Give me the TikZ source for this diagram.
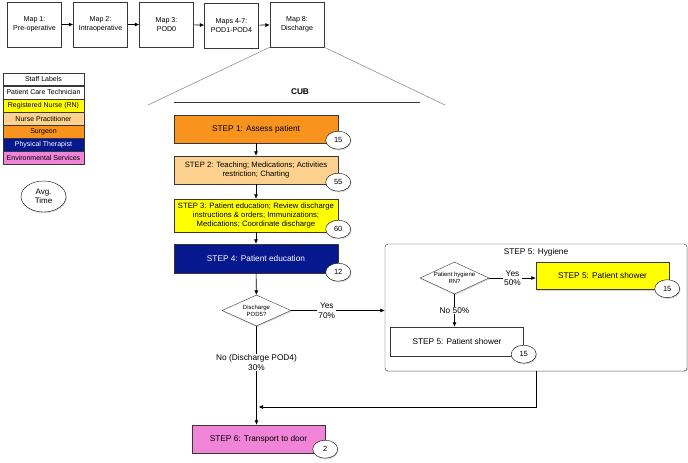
\documentclass[tikz,border=0pt]{standalone}
\usepackage{fontspec}
\setmainfont{Liberation Sans}
\usetikzlibrary{positioning,shapes.geometric,shadows,arrows.meta}

\definecolor{surgeon}{RGB}{248,148,30}
\definecolor{nursepr}{RGB}{252,210,142}
\definecolor{regnurse}{RGB}{255,255,0}
\definecolor{physther}{RGB}{6,24,142}
\definecolor{envserv}{RGB}{240,132,214}
\definecolor{edge}{RGB}{55,55,55}

\begin{document}
\begin{tikzpicture}[x=1pt, y=-1pt,
    boxshadow/.style={drop shadow={shadow xshift=0.8pt, shadow yshift=-1.2pt, opacity=0.3}},
    mapbox/.style={draw=edge, fill=white, boxshadow, minimum width=54pt, minimum height=45pt, align=center, inner sep=1pt, font=\fontsize{7.1}{8.5}\selectfont},
    legrow/.style={draw=edge, minimum width=81pt, minimum height=12.7pt, inner sep=0pt, font=\fontsize{7}{8}\selectfont},
    stepbox/.style={draw=edge, boxshadow, minimum width=164pt, align=center, inner sep=1pt, font=\fontsize{8.3}{10}\selectfont},
    smalltext/.style={font=\fontsize{7.7}{9}\selectfont},
    avg/.style={ellipse, draw=black, fill=white, boxshadow, minimum width=25pt, minimum height=18pt, inner sep=0pt, font=\fontsize{7.5}{9}\selectfont},
    choice/.style={diamond, draw=edge, fill=white, boxshadow, aspect=2.2, minimum width=69pt, minimum height=31pt, inner sep=0pt, align=center, font=\fontsize{6}{6.8}\selectfont},
    lbl/.style={fill=white, align=center, inner sep=1pt, font=\fontsize{8.3}{9.5}\selectfont},
    arr/.style={-{Latex[length=4.5pt,width=4pt]}, draw=black, line width=0.6pt}
]
    \useasboundingbox (0,0) rectangle (688,463);

    % overview of the maps
    \node[mapbox] (map1) at (34.5,24.5) {Map 1:\\Pre-operative};
    \node[mapbox] (map2) at (100.5,24.5) {Map 2:\\Intraoperative};
    \node[mapbox] (map3) at (166.5,24.5) {Map 3:\\POD0};
    \node[mapbox] (map4) at (231.5,25.5) {Maps 4-7:\\POD1-POD4};
    \node[mapbox] (map8) at (297,24.5) {Map 8:\\Discharge};
    \foreach \a/\b in {map1/map2,map2/map3,map3/map4,map4/map8}
        \draw[arr] (\a) -- (\b);

    % zoom lines to the discharge map
    \coordinate (zl) at (148,105);
    \coordinate (zr) at (445,105);
    \draw[gray, line width=0.5pt] (map8.south west) -- (zl);
    \draw[gray, line width=0.5pt] (map8.south east) -- (zr);
    \node[font=\bfseries\fontsize{8.3}{10}\selectfont] (cub) at (300,92) {CUB};
    \draw[edge, line width=1pt] (174,102) -- (420,102);

    % staff legend
    \node[legrow, fill=white] (lab) at (43.5,79.3) {Staff Labels};
    \node[legrow, fill=white, below=0pt of lab] (pct) {Patient Care Technician};
    \node[legrow, fill=regnurse, below=0pt of pct] (rn) {Registered Nurse (RN)};
    \node[legrow, fill=nursepr, below=0pt of rn] (np) {Nurse Practitioner};
    \node[legrow, fill=surgeon, below=0pt of np] (surg) {Surgeon};
    \node[legrow, fill=physther, text=white, below=0pt of surg] (pt) {Physical Therapist};
    \node[legrow, fill=envserv, below=0pt of pt] (es) {Environmental Services};

    \node[avg, minimum width=45pt, minimum height=31pt, align=center, font=\fontsize{8}{9.5}\selectfont] (avgt) at (43.5,196.5) {Avg.\\Time};

    % main steps
    \node[stepbox, fill=surgeon, minimum height=28pt] (s1) at (256,129) {STEP 1: Assess patient};
    \node[stepbox, smalltext, fill=nursepr, minimum height=28pt] (s2) at (256,170) {STEP 2: Teaching; Medications; Activities\\restriction; Charting};
    \node[stepbox, smalltext, fill=regnurse, minimum height=33pt] (s3) at (256,215.5) {STEP 3: Patient education; Review discharge\\instructions \& orders; Immunizations;\\Medications; Coordinate discharge};
    \node[stepbox, fill=physther, text=white, minimum height=29pt] (s4) at (256,258.5) {STEP 4: Patient education};
    \node[choice] (d1) at (256.5,310.5) {Discharge\\POD5?};
    \node[stepbox, fill=envserv, minimum width=133pt, minimum height=28pt] (s6) at (258.5,439) {STEP 6: Transport to door};

    % hygiene block
    \node[draw=edge, rounded corners=3pt, fill=white, boxshadow, minimum width=302pt, minimum height=127pt] (hyg) at (536,307.5) {};
    \node[lbl, anchor=north] (hygt) at ([yshift=-3pt]hyg.north) {STEP 5: Hygiene};
    \node[choice, minimum height=32pt] (d2) at (454.5,278) {Patient hygiene\\RN?};
    \node[stepbox, fill=regnurse, minimum width=133pt, minimum height=27pt] (s5a) at (602.5,276) {STEP 5: Patient shower};
    \node[stepbox, fill=white, minimum width=133pt, minimum height=29pt] (s5b) at (457,341.5) {STEP 5: Patient shower};

    % average times
    \node[avg] (t1) at ([yshift=3pt]s1.south east) {15};
    \node[avg] (t2) at ([yshift=2pt]s2.south east) {55};
    \node[avg] (t3) at ([yshift=3pt]s3.south east) {60};
    \node[avg] (t4) at ([yshift=1pt]s4.south east) {12};
    \node[avg] (t5a) at ([xshift=-2pt,yshift=1pt]s5a.south east) {15};
    \node[avg] (t5b) at ([yshift=2pt]s5b.south east) {15};
    \node[avg] (t6) at ([yshift=4pt]s6.south east) {2};

    % flow
    \draw[arr] (s1) -- (s2);
    \draw[arr] (s2) -- (s3);
    \draw[arr] (s3) -- (s4);
    \draw[arr] (s4) -- (d1);
    \draw[arr] (d1.east) -- (d1.east -| hyg.west) node[lbl, pos=0.38] {Yes\\70\%};
    \draw[arr] (d1.south) -- (d1.south |- s6.north) node[lbl, pos=0.37] {No (Discharge POD4)\\30\%};
    \draw[arr] (d2.east) -- (d2.east -| s5a.west) node[lbl, midway] {Yes\\50\%};
    \draw[arr] (d2.south) -- (d2.south |- s5b.north) node[lbl, midway] {No 50\%};
    \coordinate (mrg) at (258.5,407);
    \draw[arr] (hyg.south) |- (mrg);
\end{tikzpicture}
\end{document}
